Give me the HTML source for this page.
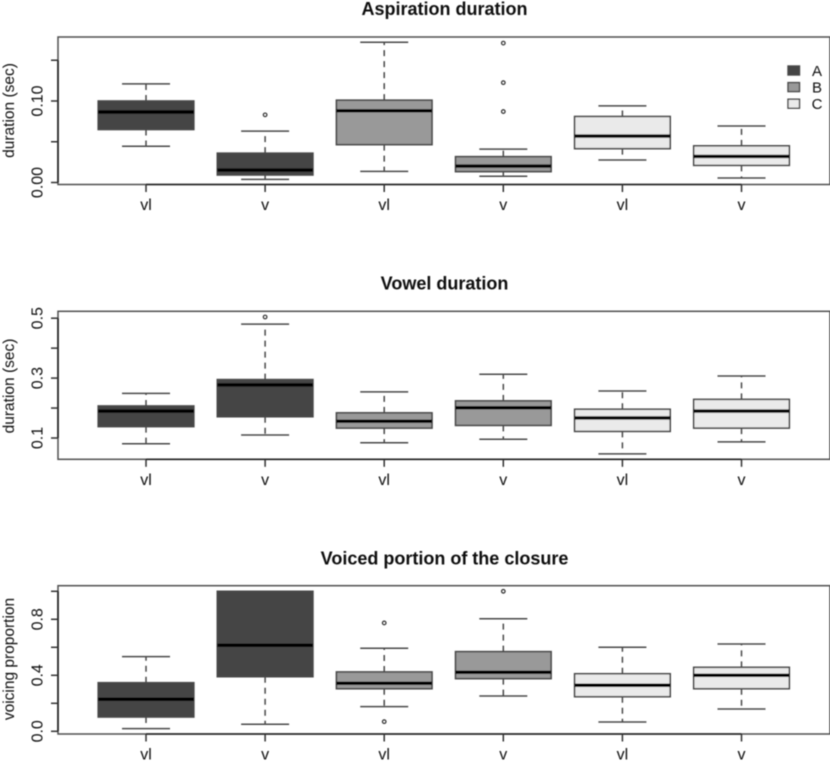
<!DOCTYPE html>
<html lang="en">
<head>
<meta charset="utf-8">
<title>Aspiration duration, vowel duration and closure voicing boxplots</title>
<style>
  html, body { margin: 0; padding: 0; background: #fff; }
  svg { display: block; }
  text { font-family: "Liberation Sans", sans-serif; fill: #111; }
</style>
</head>
<body>
<svg id="chart" width="833" height="761" viewBox="0 0 833 761" xmlns="http://www.w3.org/2000/svg">
  <defs>
    <filter id="soft" x="0" y="0" width="100%" height="100%">
      <feGaussianBlur stdDeviation="0.45"/>
    </filter>
  </defs>
  <rect width="833" height="761" fill="#fff"/>
  <g id="plots" filter="url(#soft)"></g>
</svg>
<script>
const categories = ['vl', 'v', 'vl', 'v', 'vl', 'v'];
const groups = ['A', 'A', 'B', 'B', 'C', 'C'];
const legendLabels = ['A', 'B', 'C'];

const aspTitle = 'Aspiration duration';
const aspYLabel = 'duration (sec)';
const aspTicks = [0, 0.05, 0.1, 0.15];
const aspTickLabels = ['0.00', '', '0.10', ''];
const aspHigh = [0.121, 0.063, 0.172, 0.041, 0.094, 0.0693];
const aspQ3 = [0.100, 0.036, 0.101, 0.0317, 0.081, 0.045];
const aspMedian = [0.0865, 0.0153, 0.088, 0.0202, 0.057, 0.032];
const aspQ1 = [0.065, 0.0092, 0.0464, 0.0133, 0.0415, 0.021];
const aspLow = [0.0445, 0.0039, 0.0137, 0.0076, 0.0276, 0.0055];
const aspOutliers = [[], [0.083], [], [0.171, 0.1225, 0.087], [], []];

const vowTitle = 'Vowel duration';
const vowYLabel = 'duration (sec)';
const vowTicks = [0.1, 0.2, 0.3, 0.4, 0.5];
const vowTickLabels = ['0.1', '', '0.3', '', '0.5'];
const vowHigh = [0.249, 0.480, 0.254, 0.313, 0.257, 0.307];
const vowQ3 = [0.207, 0.295, 0.184, 0.224, 0.196, 0.229];
const vowMedian = [0.190, 0.277, 0.156, 0.201, 0.167, 0.190];
const vowQ1 = [0.138, 0.171, 0.133, 0.142, 0.122, 0.133];
const vowLow = [0.081, 0.110, 0.084, 0.096, 0.047, 0.087];
const vowOutliers = [[], [0.504], [], [], [], []];

const voiTitle = 'Voiced portion of the closure';
const voiYLabel = 'voicing proportion';
const voiTicks = [0, 0.2, 0.4, 0.6, 0.8, 1];
const voiTickLabels = ['0.0', '', '0.4', '', '0.8', ''];
const voiHigh = [0.533, 1.0, 0.593, 0.804, 0.600, 0.624];
const voiQ3 = [0.347, 1.0, 0.424, 0.569, 0.411, 0.457];
const voiMedian = [0.229, 0.614, 0.343, 0.421, 0.329, 0.400];
const voiQ1 = [0.102, 0.390, 0.304, 0.376, 0.247, 0.304];
const voiLow = [0.019, 0.050, 0.176, 0.252, 0.066, 0.159];
const voiOutliers = [[], [], [0.774, 0.069], [1.0], [], []];

const NS = 'http://www.w3.org/2000/svg';
const root = document.getElementById('plots');
const groupFill = { A: '#444444', B: '#999999', C: '#eaeaea' };
const LINE = '#4a4a4a';
const PLOT_LEFT = 58;
const PLOT_RIGHT = 830;
const X_MIN = -0.739;
const X_MAX = 5.743;

function mk(tag, attrs, parent, content) {
  const node = document.createElementNS(NS, tag);
  for (const key in attrs) node.setAttribute(key, attrs[key]);
  if (content !== undefined) node.textContent = content;
  parent.appendChild(node);
  return node;
}

function xScale(i) {
  return PLOT_LEFT + (i - X_MIN) / (X_MAX - X_MIN) * (PLOT_RIGHT - PLOT_LEFT);
}

function makeYScale(domainLow, domainHigh, pixelBottom, pixelTop) {
  return function (v) {
    return pixelBottom - (v - domainLow) / (domainHigh - domainLow) * (pixelBottom - pixelTop);
  };
}

function drawPanel(p) {
  const y = makeYScale(p.domainLow, p.domainHigh, p.bottom, p.top);
  const g = mk('g', {}, root);
  
  

  const title = mk('text', { x: 444.5, y: p.titleBase, 'text-anchor': 'middle', 'font-size': 18, 'font-weight': 'bold', fill: '#000' }, g, p.title);
  
  

  const frame = mk('rect', { x: PLOT_LEFT, y: p.top, width: PLOT_RIGHT - PLOT_LEFT, height: p.bottom - p.top, fill: 'none', stroke: '#505050', 'stroke-width': 1.5 }, g);
  
  

  const yLine = mk('line', { x1: PLOT_LEFT, x2: PLOT_LEFT, y1: y(p.ticks[0]), y2: y(p.ticks[p.ticks.length - 1]), stroke: '#222', 'stroke-width': 1.6 }, g);
  
  

  const xLine = mk('line', { x1: xScale(0), x2: xScale(categories.length - 1), y1: p.bottom, y2: p.bottom, stroke: '#222', 'stroke-width': 1.6 }, g);
  
  

  p.ticks.forEach(function (v, i) {
    const tick = mk('line', { x1: 51, x2: PLOT_LEFT, y1: y(v), y2: y(v), stroke: '#333', 'stroke-width': 1.5 }, g);
    
    
    if (p.tickLabels[i]) {
      const label = mk('text', { x: 42.5, y: y(v), 'text-anchor': 'middle', 'font-size': 16, transform: 'rotate(-90 42.5 ' + y(v) + ')' }, g, p.tickLabels[i]);
      
      
    }
  });

  const yTitle = mk('text', { x: 14, y: p.yLabelCenter, 'text-anchor': 'middle', 'font-size': 15.5, transform: 'rotate(-90 14 ' + p.yLabelCenter + ')' }, g, p.yLabel);
  
  

  categories.forEach(function (cat, i) {
    const cx = xScale(i);
    const fill = groupFill[groups[i]];

    const xTick = mk('line', { x1: cx, x2: cx, y1: p.bottom, y2: p.bottom + 7.5, stroke: '#333', 'stroke-width': 1.5 }, g);
    
    

    const xLabel = mk('text', { x: cx, y: p.bottom + 25.5, 'text-anchor': 'middle', 'font-size': 16 }, g, cat);
    
    

    const upper = mk('line', { x1: cx, x2: cx, y1: y(p.q3[i]), y2: y(p.high[i]), stroke: LINE, 'stroke-width': 1.5, 'stroke-dasharray': '6 5' }, g);
    
    

    const lower = mk('line', { x1: cx, x2: cx, y1: y(p.q1[i]), y2: y(p.low[i]), stroke: LINE, 'stroke-width': 1.5, 'stroke-dasharray': '6 5' }, g);
    
    

    const capHigh = mk('line', { x1: cx - 24, x2: cx + 24, y1: y(p.high[i]), y2: y(p.high[i]), stroke: LINE, 'stroke-width': 1.5 }, g);
    
    

    const capLow = mk('line', { x1: cx - 24, x2: cx + 24, y1: y(p.low[i]), y2: y(p.low[i]), stroke: LINE, 'stroke-width': 1.5 }, g);
    
    

    const box = mk('rect', { x: cx - 47.8, y: y(p.q3[i]), width: 95.6, height: y(p.q1[i]) - y(p.q3[i]), fill: fill, stroke: LINE, 'stroke-width': 1.6 }, g);
    
    

    const median = mk('line', { x1: cx - 47.8, x2: cx + 47.8, y1: y(p.median[i]), y2: y(p.median[i]), stroke: '#000', 'stroke-width': 3.4 }, g);
    
    

    p.outliers[i].forEach(function (v) {
      const dot = mk('circle', { cx: cx, cy: y(v), r: 1.8, fill: 'none', stroke: '#333', 'stroke-width': 1.2 }, g);
      
      
    });
  });
}

drawPanel({ name: 'aspiration', title: aspTitle, yLabel: aspYLabel, ticks: aspTicks, tickLabels: aspTickLabels,
  high: aspHigh, q3: aspQ3, median: aspMedian, q1: aspQ1, low: aspLow, outliers: aspOutliers,
  top: 37, bottom: 184.5, domainLow: -0.00245, domainHigh: 0.1785, titleBase: 15, yLabelCenter: 110.5 });

drawPanel({ name: 'vowel', title: vowTitle, yLabel: vowYLabel, ticks: vowTicks, tickLabels: vowTickLabels,
  high: vowHigh, q3: vowQ3, median: vowMedian, q1: vowQ1, low: vowLow, outliers: vowOutliers,
  top: 311.3, bottom: 459.3, domainLow: 0.0289, domainHigh: 0.523, titleBase: 289.3, yLabelCenter: 386 });

drawPanel({ name: 'voicing', title: voiTitle, yLabel: voiYLabel, ticks: voiTicks, tickLabels: voiTickLabels,
  high: voiHigh, q3: voiQ3, median: voiMedian, q1: voiQ1, low: voiLow, outliers: voiOutliers,
  top: 585.7, bottom: 734, domainLow: -0.0193, domainHigh: 1.04, titleBase: 564.3, yLabelCenter: 659 });

const legend = mk('g', {}, root);


legendLabels.forEach(function (label, i) {
  const top = 66 + i * 16.6;
  const swatch = mk('rect', { x: 788, y: top, width: 11.5, height: 9, fill: groupFill[label], stroke: LINE, 'stroke-width': 1.4 }, legend);
  
  
  const text = mk('text', { x: 817, y: top + 10, 'text-anchor': 'middle', 'font-size': 15 }, legend, label);
  
  
});
</script>
</body>
</html>
